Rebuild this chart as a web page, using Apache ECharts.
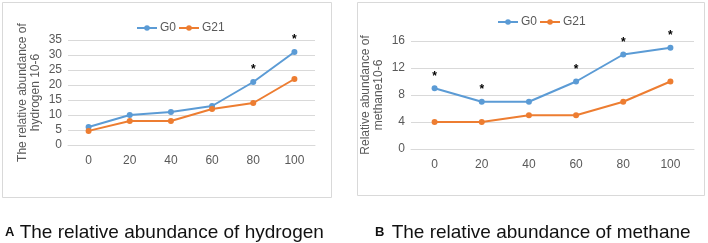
<!DOCTYPE html>
<html>
<head>
<meta charset="utf-8">
<script src="https://cdn.jsdelivr.net/npm/echarts@6/dist/echarts.min.js"></script>
<style>
  html, body { margin: 0; padding: 0; background: #fff; }
  #chart { width: 708px; height: 243px; }
</style>
</head>
<body>
<div id="chart"></div>
<script>
// categories shared by both panels
const categories = ['0', '20', '40', '60', '80', '100'];

// panel A - hydrogen
const h2G0 = [6, 10, 11, 13, 21, 31];
const h2G21 = [4.7, 8, 8, 12, 14, 22];
const h2Stars = [4, 5]; // indexes marked with *

// panel B - methane
const ch4G0 = [9, 7, 7, 10, 14, 15];
const ch4G21 = [4, 4, 5, 5, 7, 10];
const ch4Stars = [0, 1, 3, 4, 5];

const blue = '#5b9bd5';
const orange = '#ed7d31';
const axisText = '#595959';
const font = 'Liberation Sans, Arial, sans-serif';

function starred(values, stars) {
  return values.map((v, i) => stars.includes(i)
    ? { value: v, label: { show: true, formatter: '*', position: 'top', distance: 3, color: '#000', fontSize: 12, fontWeight: 'bold' } }
    : v);
}

function lineSeries(name, data, color, idx) {
  return {
    name: name,
    type: 'line',
    xAxisIndex: idx,
    yAxisIndex: idx,
    data: data,
    symbol: 'circle',
    symbolSize: 6,
    lineStyle: { color: color, width: 2 },
    itemStyle: { color: color },
    emphasis: { disabled: true },
    animation: false
  };
}

function yAxis(idx, max, interval, name) {
  return {
    type: 'value',
    gridIndex: idx,
    min: 0,
    max: max,
    interval: interval,
    name: name,
    nameLocation: 'middle',
    nameGap: 26,
    nameRotate: 90,
    nameTextStyle: { color: axisText, fontSize: 12, fontFamily: font, lineHeight: 13 },
    axisLine: { show: false },
    axisTick: { show: false },
    axisLabel: { color: axisText, fontSize: 12, fontFamily: font, margin: 6 },
    splitLine: { lineStyle: { color: '#d9d9d9', width: 1 } }
  };
}

function xAxis(idx) {
  return {
    type: 'category',
    gridIndex: idx,
    data: categories,
    axisLine: { lineStyle: { color: '#d9d9d9' } },
    axisTick: { show: false },
    axisLabel: { color: axisText, fontSize: 12, fontFamily: font, margin: 10 }
  };
}

const legendText = { color: axisText, fontSize: 12, fontFamily: font, padding: [0, 0, 0, -2] };

const chart = echarts.init(document.getElementById('chart'));
chart.setOption({
  backgroundColor: '#fff',
  animation: false,
  title: [
    { text: '{a|A} The relative abundance of hydrogen', left: 0, top: 218,
      textStyle: { fontFamily: font, fontSize: 19, fontWeight: 'normal', color: '#111',
        rich: { a: { fontSize: 13, fontWeight: 'bold', fontFamily: font, color: '#111' } } } },
    { text: '{a|B} The relative abundance of methane', left: 370, top: 218,
      textStyle: { fontFamily: font, fontSize: 19, fontWeight: 'normal', color: '#111',
        rich: { a: { fontSize: 13, fontWeight: 'bold', fontFamily: font, color: '#111', padding: [0, 2, 0, 0] } } } }
  ],
  graphic: [
    { type: 'rect', shape: { x: 2.5, y: 2.5, width: 329, height: 195 }, style: { fill: 'none', stroke: '#d9d9d9', lineWidth: 1 } },
    { type: 'rect', shape: { x: 357.5, y: 2.5, width: 347, height: 193 }, style: { fill: 'none', stroke: '#d9d9d9', lineWidth: 1 } }
  ],
  legend: [
    { data: ['G0', 'G21'], left: 131, top: 17, itemWidth: 20, itemHeight: 7, itemGap: 2,
      textStyle: legendText },
    { data: ['G0 ', 'G21 '], left: 492, top: 11, itemWidth: 20, itemHeight: 7, itemGap: 2,
      formatter: n => n.trim(),
      textStyle: legendText }
  ],
  grid: [
    { left: 68, right: 393, top: 40, bottom: 98 },
    { left: 411, right: 14, top: 41, bottom: 94 }
  ],
  xAxis: [xAxis(0), xAxis(1)],
  yAxis: [
    yAxis(0, 35, 5, 'The relative abundance of\nhydrogen 10-6'),
    yAxis(1, 16, 4, 'Relative abundance of\nmethane10-6')
  ],
  series: [
    lineSeries('G0', starred(h2G0, h2Stars), blue, 0),
    lineSeries('G21', h2G21, orange, 0),
    lineSeries('G0 ', starred(ch4G0, ch4Stars), blue, 1),
    lineSeries('G21 ', ch4G21, orange, 1)
  ]
});
</script>
</body>
</html>
